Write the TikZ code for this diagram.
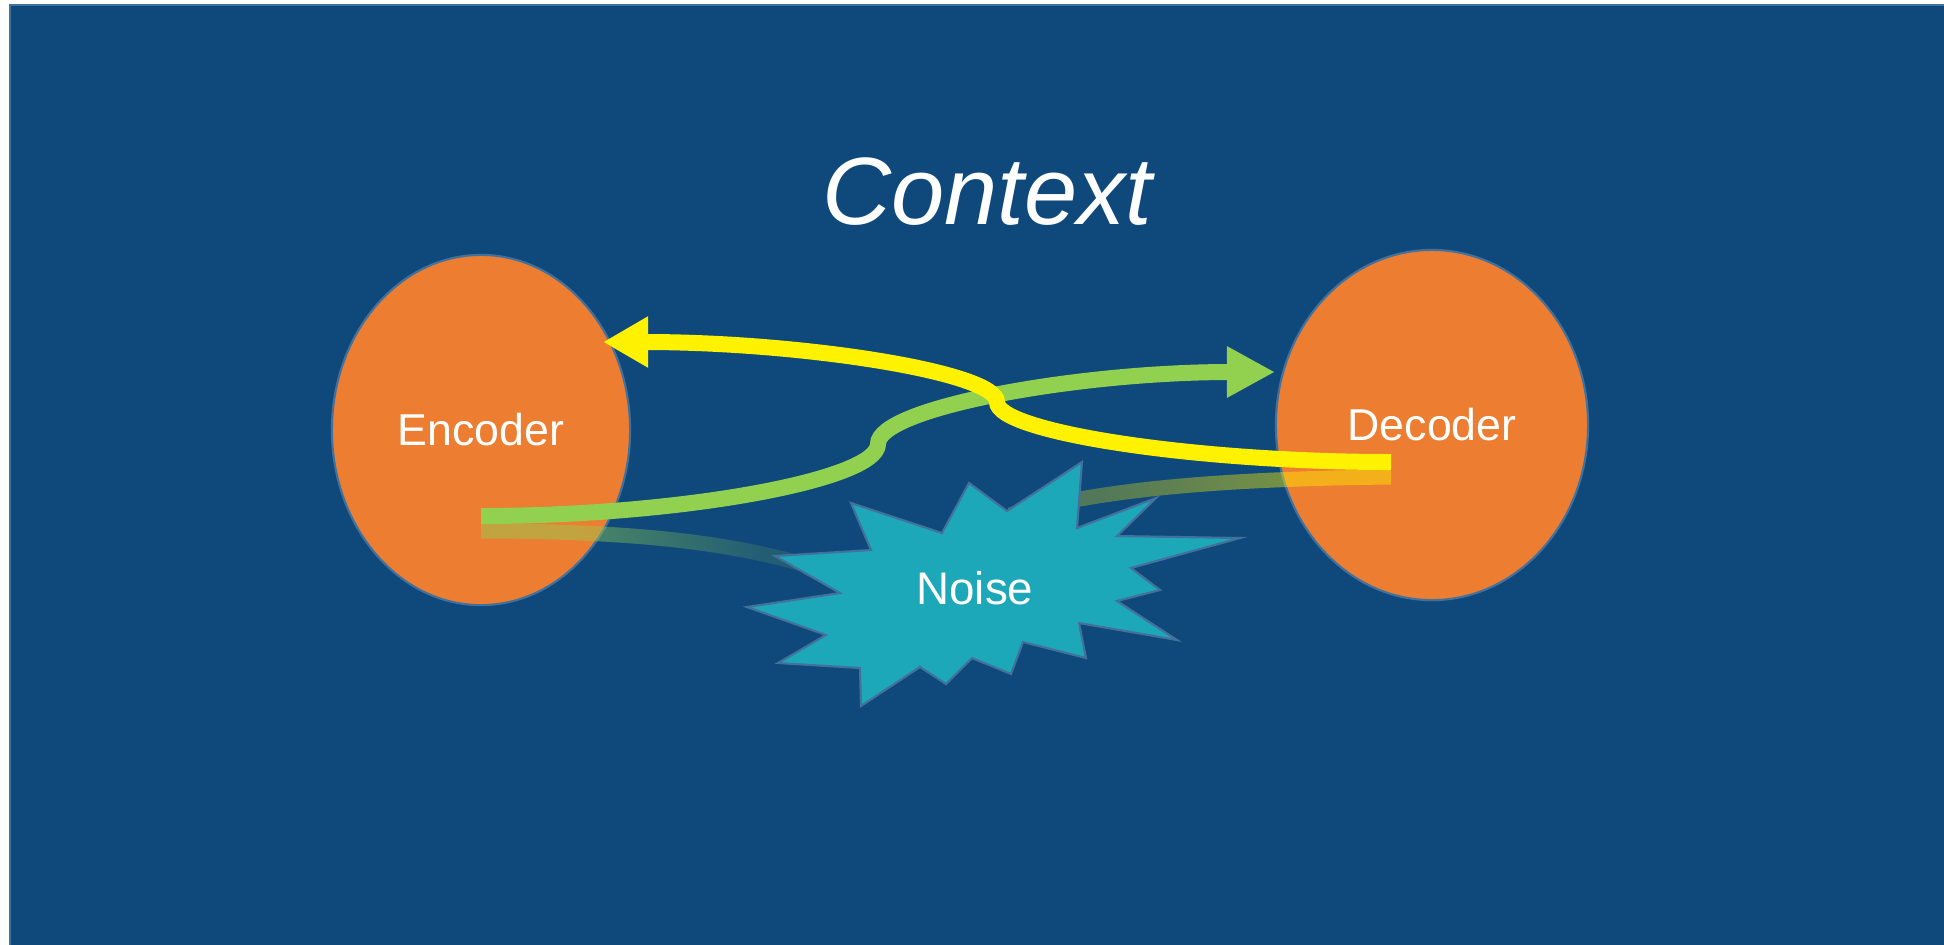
\documentclass[tikz,border=0pt]{standalone}
\usepackage{fontspec}
\setmainfont{Liberation Sans}
\usetikzlibrary{shapes.geometric, arrows.meta, fadings}

\definecolor{slideblue}{RGB}{15,73,123}
\definecolor{edgeblue}{RGB}{65,113,156}
\definecolor{coderorange}{RGB}{237,125,49}
\definecolor{siggreen}{RGB}{146,208,80}
\definecolor{noiseteal}{RGB}{28,168,184}

% faded copies of the signal
\tikzfading[name=fadeencshadow, left color=transparent!52, right color=transparent!85]
\tikzfading[name=fadedecshadow, left color=transparent!72, right color=transparent!56]

\begin{document}
\begin{tikzpicture}[x=0.01cm, y=-0.01cm,
    coder/.style={ellipse, draw=edgeblue, line width=0.6pt, fill=coderorange,
      inner sep=0pt, text=white, font=\fontsize{12.7}{15}\selectfont},
    sigline/.style={line width=0.16cm},
    shadowline/.style={line width=0.15cm, fit fading=false},
    noisestar/.style={draw=edgeblue, fill=noiseteal, line width=0.6pt, line join=miter}]

  \useasboundingbox (0,0) rectangle (1944,944);

  % slide background
  \draw[edgeblue, line width=0.7pt, fill=slideblue] (10,5) rectangle (1960,960);

  \node[white, anchor=base, font=\itshape\fontsize{27.2}{30}\selectfont] (ctx) at (987,224) {Context};

  % encoder and decoder
  \node[coder, minimum width=2.98cm, minimum height=3.5cm] (enc) at (481,430) {Encoder};
  \node[coder, minimum width=3.12cm, minimum height=3.5cm] (dec) at (1432,425) {Decoder};

  % connector ends
  \coordinate (gstart) at (481,516);
  \coordinate (gkink) at (878,444);
  \coordinate (gtip) at (1275,372);
  \coordinate (ystart) at (1391,462);
  \coordinate (ykink) at (997,402);
  \coordinate (ytip) at (603,342);
  \coordinate (encshadow) at (481,531);
  \coordinate (decshadow) at (1391,477);
  \coordinate (nin) at (850,580);
  \coordinate (nout) at (1010,515);

  % signal passing through the noise
  \draw[shadowline, siggreen, path fading=fadeencshadow,
        fading transform={shift={(665,550)}, xscale=1.11, yscale=4}]
    (encshadow) .. controls (650,531) and (760,545) .. (nin);
  \draw[shadowline, yellow, path fading=fadedecshadow,
        fading transform={shift={(1200,500)}, xscale=1.14, yscale=4}]
    (nout) .. controls (1090,492) and (1200,479) .. (decshadow);

  % noise burst
  \draw[noisestar] (1082,462) -- (1077,528) -- (1156,498) -- (1117,536) -- (1240,538)
    -- (1131,568) -- (1160,590) -- (1117,601) -- (1177,640) -- (1079,623)
    -- (1086,658) -- (1023,642) -- (1011,674) -- (972,658) -- (946,684)
    -- (920,667) -- (861,706) -- (860,668) -- (778,663) -- (826,635)
    -- (747,607) -- (840,593) -- (775,556) -- (871,550) -- (851,503)
    -- (942,533) -- (969,483) -- (1007,511) -- cycle;
  \node[white, font=\fontsize{13}{15}\selectfont] (noise) at (975,588) {Noise};

  % encoder to decoder
  \draw[sigline, siggreen, -{Triangle[length=0.48cm, width=0.48cm]}]
    (gstart) .. controls (679,516) and (878,480) .. (gkink)
    .. controls (878,408) and (1077,372) .. (gtip);

  % decoder back to encoder
  \draw[sigline, yellow, -{Triangle[length=0.45cm, width=0.48cm]}]
    (ystart) .. controls (1194,462) and (997,432) .. (ykink)
    .. controls (997,372) and (800,342) .. (ytip);
\end{tikzpicture}
\end{document}
